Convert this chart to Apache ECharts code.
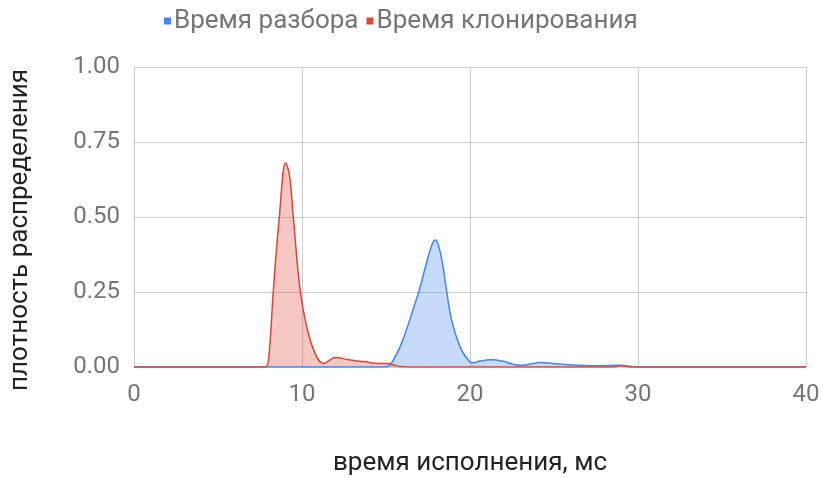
<!DOCTYPE html>
<html>
<head>
<meta charset="utf-8">
<script src="https://cdn.jsdelivr.net/npm/echarts@6/dist/echarts.min.js"></script>
<style>
    html, body { margin: 0; padding: 0; background: #fff; }
    #chart-box { width: 823px; height: 478px; }
</style>
</head>
<body>
<div id="chart-box"></div>
<script>
    // время исполнения (мс) и плотность
    let parseX = [0, 6.5, 15.0, 15.5, 16.0, 16.6, 17.0, 17.4, 17.75, 17.95, 18.15, 18.35, 18.6, 18.9, 19.4, 19.8, 20.15, 20.6, 21.2, 21.9, 22.5, 23.0, 23.5, 24.2, 25.0, 26.1, 27.7, 28.9, 29.6, 30.5, 40];
    let parseY = [0, 0, 0, 0.03, 0.09, 0.19, 0.26, 0.345, 0.41, 0.423, 0.40, 0.35, 0.257, 0.157, 0.068, 0.03, 0.014, 0.02, 0.024, 0.02, 0.01, 0.006, 0.009, 0.015, 0.011, 0.007, 0.004, 0.006, 0.002, 0, 0];

    let cloneX = [0, 7.8, 8.0, 8.3, 8.65, 9.03, 9.25, 9.48, 9.88, 10.28, 10.77, 11.27, 12.0, 12.8, 13.65, 14.6, 15.1, 15.8, 17.0, 28.5, 29.0, 29.5, 40];
    let cloneY = [0, 0, 0.02, 0.26, 0.50, 0.68, 0.64, 0.50, 0.26, 0.134, 0.046, 0.012, 0.032, 0.024, 0.018, 0.012, 0.012, 0.002, 0, 0, 0.005, 0, 0];

    let xTicks = [0, 10, 20, 30, 40];
    let yTicks = [0, 0.25, 0.5, 0.75, 1];

    function pairs(xs, ys) {
        return xs.map(function (x, i) { return [x, ys[i]]; });
    }

    let font = 'Roboto, "Noto Sans", sans-serif';

    let option = {
        animation: false,
        legend: {
            top: 3,
            left: 159,
            itemWidth: 7,
            itemHeight: 7,
            itemGap: 8,
            icon: 'rect',
            textStyle: { fontFamily: font, fontSize: 26, color: '#757575', padding: [0, 0, 0, -2] },
            data: ['Время разбора', 'Время клонирования']
        },
        grid: { left: 134, right: 17, top: 67, bottom: 111, outerBoundsMode: 'none' },
        xAxis: {
            type: 'value',
            min: xTicks[0],
            max: xTicks[xTicks.length - 1],
            interval: 10,
            name: 'время исполнения, мс',
            nameLocation: 'middle',
            nameGap: 83,
            nameTextStyle: { fontFamily: font, fontSize: 26, color: '#222' },
            axisLine: { show: true, lineStyle: { color: '#ccc' } },
            axisTick: { show: false },
            splitLine: { show: true, lineStyle: { color: '#ccc' } },
            axisLabel: { fontFamily: font, fontSize: 24, color: '#757575', margin: 16 }
        },
        yAxis: {
            type: 'value',
            min: yTicks[0],
            max: yTicks[yTicks.length - 1],
            interval: 0.25,
            name: 'плотность распределения',
            nameLocation: 'middle',
            nameGap: 101,
            nameTextStyle: { fontFamily: font, fontSize: 26, color: '#222', padding: [0, 26, 0, 0] },
            axisLine: { show: true, lineStyle: { color: '#ccc' } },
            axisTick: { show: false },
            splitLine: { show: true, lineStyle: { color: '#ccc' } },
            axisLabel: {
                fontFamily: font, fontSize: 24, color: '#757575', margin: 14,
                formatter: function (v) { return v.toFixed(2); }
            }
        },
        series: [
            {
                name: 'Время разбора',
                type: 'line',
                smooth: 0.4,
                showSymbol: false,
                color: '#4285f4',
                lineStyle: { width: 1.5, color: '#4285f4' },
                areaStyle: { color: 'rgba(66,133,244,0.3)', opacity: 1 },
                data: pairs(parseX, parseY)
            },
            {
                name: 'Время клонирования',
                type: 'line',
                smooth: 0.4,
                showSymbol: false,
                color: '#db4437',
                lineStyle: { width: 1.5, color: '#db4437' },
                areaStyle: { color: 'rgba(219,68,55,0.3)', opacity: 1 },
                data: pairs(cloneX, cloneY)
            }
        ]
    };

    let chart = echarts.init(document.getElementById('chart-box'));
    chart.setOption(option);
</script>
</body>
</html>
